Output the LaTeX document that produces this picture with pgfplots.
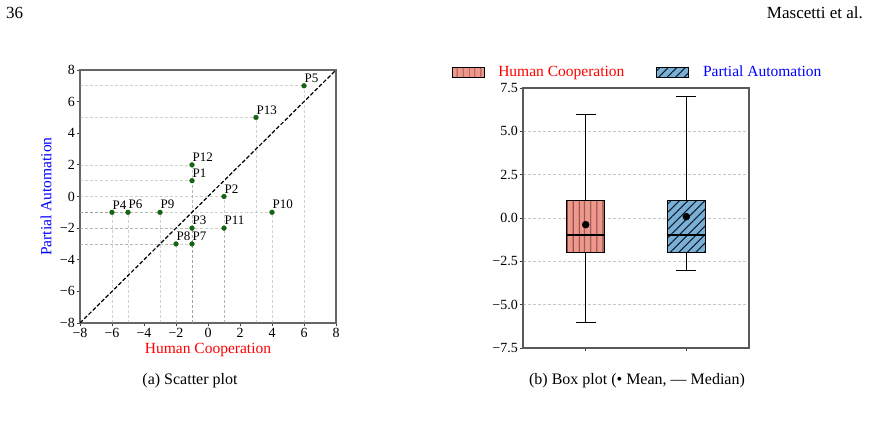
\documentclass[border=0pt]{standalone}
\usepackage{fontspec}
\setmainfont{Liberation Serif}
\usepackage{pgfplots}
\pgfplotsset{compat=1.18}
\usepgfplotslibrary{statistics}
\usetikzlibrary{patterns.meta}
\definecolor{ptgreen}{RGB}{22,100,22}
\definecolor{hcfill}{RGB}{241,150,139}
\definecolor{hchatch}{RGB}{80,35,30}
\definecolor{pafill}{RGB}{123,176,214}
\definecolor{pahatch}{RGB}{15,25,40}
\definecolor{guide}{RGB}{150,150,150}
\newcommand{\tickfont}{\fontsize{14}{16}\selectfont}
\newcommand{\labfont}{\fontsize{15.5}{18}\selectfont}
\pgfplotsset{
  hguide/.style={draw=guide, opacity=0.45, line width=0.7pt, dash pattern=on 3pt off 2pt, forget plot},
}
\begin{document}
\begin{tikzpicture}
\useasboundingbox (0pt,0pt) rectangle (869pt,422pt);
\node[anchor=west, inner sep=0pt, font=\fontsize{17}{20}\selectfont] at (6pt,409pt) {36};
\node[anchor=east, inner sep=0pt, font=\fontsize{17}{20}\selectfont] at (863pt,409pt) {Mascetti et al.};
\node[inner sep=0pt, font=\fontsize{16}{19}\selectfont] at (190pt,41pt) {(a) Scatter plot};
\node[inner sep=0pt, font=\fontsize{16}{19}\selectfont] at (637pt,41pt) {(b) Box plot (• Mean, — Median)};

% ---------------- left: scatter ----------------
\begin{axis}[
  at={(80pt,99pt)}, anchor=south west, scale only axis,
  width=256pt, height=253pt,
  xmin=-8, xmax=8, ymin=-8, ymax=8,
  xtick={-8,-6,-4,-2,0,2,4,6,8},
  xticklabels={−8,−6,−4,−2,0,2,4,6,8},
  ytick={-8,-6,-4,-2,0,2,4,6,8},
  yticklabels={−8,−6,−4,−2,0,2,4,6,8},
  tick align=outside, tick pos=left,
  major tick length=3.5pt,
  every tick/.style={black!75, line width=0.8pt},
  ticklabel style={font=\tickfont},
  xticklabel style={inner sep=1.5pt},
  yticklabel style={inner sep=1.5pt},
  axis line style={draw=black!60, line width=1.1pt},
  xlabel={Human Cooperation},
  xlabel style={red, font=\labfont, at={(axis description cs:0.5,-0.1067)}, anchor=center},
  ylabel={Partial Automation},
  ylabel style={blue, font=\labfont, at={(axis description cs:-0.1328,0.5)}, anchor=center},
]
% guide lines (horizontal to y axis, vertical to x axis)
\addplot[hguide] coordinates {(-8,1) (-1,1)};   \addplot[hguide] coordinates {(-1,-8) (-1,1)};
\addplot[hguide] coordinates {(-8,0) (1,0)};    \addplot[hguide] coordinates {(1,-8) (1,0)};
\addplot[hguide] coordinates {(-8,-2) (-1,-2)}; \addplot[hguide] coordinates {(-1,-8) (-1,-2)};
\addplot[hguide] coordinates {(-8,-1) (-6,-1)}; \addplot[hguide] coordinates {(-6,-8) (-6,-1)};
\addplot[hguide] coordinates {(-8,7) (6,7)};    \addplot[hguide] coordinates {(6,-8) (6,7)};
\addplot[hguide] coordinates {(-8,-1) (-5,-1)}; \addplot[hguide] coordinates {(-5,-8) (-5,-1)};
\addplot[hguide] coordinates {(-8,-3) (-1,-3)}; \addplot[hguide] coordinates {(-1,-8) (-1,-3)};
\addplot[hguide] coordinates {(-8,-3) (-2,-3)}; \addplot[hguide] coordinates {(-2,-8) (-2,-3)};
\addplot[hguide] coordinates {(-8,-1) (-3,-1)}; \addplot[hguide] coordinates {(-3,-8) (-3,-1)};
\addplot[hguide] coordinates {(-8,-1) (4,-1)};  \addplot[hguide] coordinates {(4,-8) (4,-1)};
\addplot[hguide] coordinates {(-8,-2) (1,-2)};  \addplot[hguide] coordinates {(1,-8) (1,-2)};
\addplot[hguide] coordinates {(-8,2) (-1,2)};   \addplot[hguide] coordinates {(-1,-8) (-1,2)};
\addplot[hguide] coordinates {(-8,5) (3,5)};    \addplot[hguide] coordinates {(3,-8) (3,5)};
% diagonal
\addplot[black, line width=1.2pt, dash pattern=on 4pt off 2pt, forget plot] coordinates {(-8,-8) (8,8)};
% points
\addplot[only marks, mark=*, mark size=2.4pt, color=ptgreen,
  nodes near coords, point meta=explicit symbolic,
  every node near coord/.style={anchor=south west, inner sep=0pt, xshift=0.5pt, yshift=3pt, black, font=\fontsize{13}{15}\selectfont}]
  table[meta=label] {
x y label
-1 1 P1
1 0 P2
-1 -2 P3
-6 -1 P4
6 7 P5
-5 -1 P6
-1 -3 P7
-2 -3 P8
-3 -1 P9
4 -1 P10
1 -2 P11
-1 2 P12
3 5 P13
};
\end{axis}

% ---------------- right: box plot ----------------
\begin{axis}[
  at={(523pt,74pt)}, anchor=south west, scale only axis,
  width=226pt, height=260pt,
  xmin=0.377, xmax=2.623, ymin=-7.5, ymax=7.5,
  xtick={1,2}, xticklabels={},
  ytick={-7.5,-5,-2.5,0,2.5,5,7.5},
  yticklabels={−7.5,−5.0,−2.5,0.0,2.5,5.0,7.5},
  tick align=outside, tick pos=left,
  major tick length=3.5pt,
  every tick/.style={black!75, line width=0.8pt},
  ticklabel style={font=\tickfont},
  yticklabel style={inner sep=1.5pt},
  axis line style={draw=black!65, line width=1.1pt},
  ymajorgrids, grid style={black!22, line width=0.6pt, dash pattern=on 3pt off 2pt},
  legend columns=2,
  legend style={at={(axis description cs:-0.3155,1.0615)}, anchor=west, draw=none, fill=none,
    inner sep=0pt, outer sep=0pt, nodes={inner sep=0pt, font=\labfont},
    /tikz/every odd column/.style={column sep=13.7pt},
    /tikz/every even column/.style={column sep=32pt}},
  boxplot/draw direction=y,
  boxplot/box extend=0.38,
  boxplot/whisker extend=0.2,
  boxplot/every whisker/.style={line width=0.8pt},
  boxplot/every median/.style={line width=1.8pt},
]
\addlegendimage{legend image code/.code={\draw[black, line width=0.9pt, fill=hcfill, postaction={pattern={Lines[angle=90,distance=6.4pt,line width=1pt]},pattern color=hchatch}] (0pt,-5pt) rectangle (32pt,5pt);}}
\addlegendentry{\textcolor{red}{Human Cooperation}}
\addlegendimage{legend image code/.code={\draw[black, line width=0.9pt, fill=pafill, postaction={pattern={Lines[angle=45,distance=6pt,line width=1pt]},pattern color=pahatch}] (0pt,-5pt) rectangle (32pt,5pt);}}
\addlegendentry{\textcolor{blue}{Partial Automation}}

\addplot[forget plot, black,
  boxplot prepared={draw position=1, lower whisker=-6, lower quartile=-2, median=-1, upper quartile=1, upper whisker=6},
  boxplot/every box/.style={line width=0.9pt, fill=hcfill, postaction={pattern={Lines[angle=90,distance=6.4pt,line width=1pt]},pattern color=hchatch}}]
  coordinates {};
\addplot[forget plot, black,
  boxplot prepared={draw position=2, lower whisker=-3, lower quartile=-2, median=-1, upper quartile=1, upper whisker=7},
  boxplot/every box/.style={line width=0.9pt, fill=pafill, postaction={pattern={Lines[angle=45,distance=6pt,line width=1pt]},pattern color=pahatch}}]
  coordinates {};
\addplot[forget plot, only marks, mark=*, mark size=3.5pt, black] coordinates {(1,-0.385) (2,0.077)};
\end{axis}
\end{tikzpicture}
\end{document}
